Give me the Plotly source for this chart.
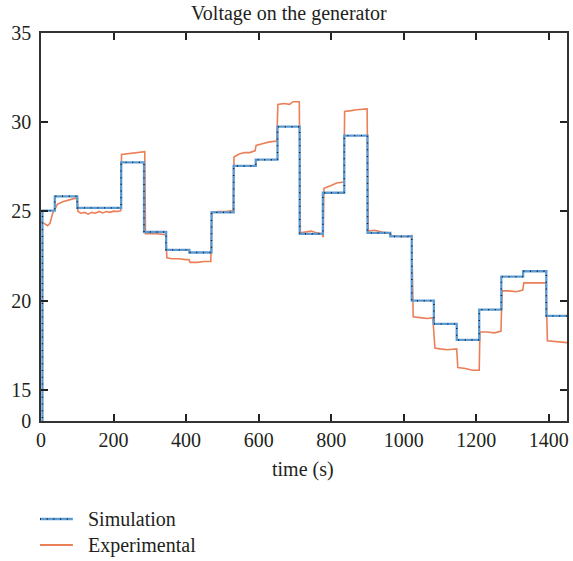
import plotly.graph_objects as go

# ---------------- data ----------------
# Simulation: step change times (s) and levels (V)
sim_t = [0, 4, 38, 100, 221, 284, 345, 409, 470, 531, 592, 652, 713, 777, 836,
         900, 963, 1022, 1083, 1146, 1208, 1269, 1329, 1393, 1450]
sim_v = [0, 25.05, 25.85, 25.2, 27.75, 23.85, 22.85, 22.7, 24.95, 27.55, 27.9,
         29.75, 23.75, 26.05, 29.25, 23.8, 23.6, 20.0, 18.7, 17.8, 19.5, 21.35,
         21.65, 19.15, 19.15]

# Experimental measurement (s, V)
exp_t = [0, 8, 18, 25, 32, 38, 45, 60, 75, 90, 100, 102, 110, 120, 130, 140, 150,
         160, 170, 180, 190, 200, 212, 220, 222, 240, 260, 286, 288, 300, 320, 344,
         347, 360, 380, 400, 408, 411, 430, 450, 468, 471, 490, 510, 530, 532, 545,
         560, 575, 590, 593, 610, 630, 650, 653, 670, 685, 695, 712, 715, 730, 745,
         760, 775, 778, 780, 800, 815, 835, 837, 855, 870, 899, 902, 920, 940, 962,
         965, 990, 1010, 1022, 1026, 1045, 1065, 1080, 1086, 1100, 1120, 1146, 1149,
         1170, 1190, 1208, 1210, 1230, 1250, 1268, 1271, 1290, 1310, 1328, 1331,
         1350, 1370, 1392, 1396, 1420, 1450]
exp_v = [24.45, 24.35, 24.2, 24.35, 24.9, 25.1, 25.4, 25.55, 25.65, 25.72, 25.75,
         25.0, 24.9, 24.95, 24.85, 24.95, 24.9, 25.0, 24.92, 25.0, 24.95, 25.02,
         25.0, 25.05, 28.2, 28.25, 28.3, 28.35, 23.75, 23.75, 23.75, 23.7, 22.4,
         22.35, 22.35, 22.3, 22.3, 22.15, 22.15, 22.2, 22.2, 24.95, 25.0, 25.0,
         25.05, 28.05, 28.2, 28.3, 28.3, 28.4, 28.7, 28.8, 28.9, 28.95, 31.0, 31.05,
         31.0, 31.15, 31.15, 23.8, 23.85, 23.9, 23.8, 23.75, 23.55, 26.3, 26.45,
         26.6, 26.65, 30.6, 30.65, 30.7, 30.75, 23.9, 23.95, 23.85, 23.8, 23.65,
         23.6, 23.6, 23.65, 19.1, 19.05, 19.0, 19.05, 17.35, 17.3, 17.25, 17.3,
         16.25, 16.2, 16.1, 16.1, 18.25, 18.25, 18.2, 18.3, 20.55, 20.55, 20.5,
         20.6, 21.0, 21.0, 21.0, 21.0, 17.75, 17.7, 17.65]

x_ticks = [0, 200, 400, 600, 800, 1000, 1200, 1400]
y_bottom = 13.26
y_ticks = [y_bottom, 15, 20, 25, 30, 35]
y_ticktext = ["0", "15", "20", "25", "30", "35"]

BLUE = "#5b9bd5"
ORANGE = "#ea7f58"
FONT = "Liberation Serif"
FS = 20
TXT = "#231f20"
DOTS = dict(color="#1a1a1a", width=1.4, dash="1px,5.7px")

fig = go.Figure()
fig.add_trace(go.Scatter(x=exp_t, y=exp_v, mode="lines", name="Experimental",
                         line=dict(color=ORANGE, width=1.6), showlegend=False))
fig.add_trace(go.Scatter(x=sim_t, y=sim_v, mode="lines", name="Simulation",
                         line=dict(color=BLUE, width=2.3, shape="hv"), showlegend=False))
fig.add_trace(go.Scatter(x=sim_t, y=sim_v, mode="lines", name="Simulation",
                         line=dict(shape="hv", **DOTS), showlegend=False))

L, R, T, B = 41, 4, 33, 140
W, H = 573, 561
pw, ph = W - L - R, H - T - B

def px(xp):
    return (xp - L) / pw

def py(yp):
    return (H - B - yp) / ph

shapes = [
    dict(type="line", xref="paper", yref="paper", x0=px(40), x1=px(73), y0=py(519), y1=py(519),
         line=dict(color=BLUE, width=2.3)),
    dict(type="line", xref="paper", yref="paper", x0=px(40), x1=px(73), y0=py(519), y1=py(519),
         line=DOTS),
    dict(type="line", xref="paper", yref="paper", x0=px(40), x1=px(73), y0=py(545), y1=py(545),
         line=dict(color=ORANGE, width=2)),
]
annotations = [
    dict(xref="paper", yref="paper", x=px(86), y=py(519), text="Simulation", showarrow=False,
         xanchor="left", yanchor="middle", font=dict(family=FONT, size=FS, color=TXT)),
    dict(xref="paper", yref="paper", x=px(86), y=py(545), text="Experimental", showarrow=False,
         xanchor="left", yanchor="middle", font=dict(family=FONT, size=FS, color=TXT)),
    dict(xref="paper", yref="paper", x=px(304), y=py(469), text="time (s)", showarrow=False,
         xanchor="center", yanchor="middle", font=dict(family=FONT, size=FS, color=TXT)),
    dict(xref="paper", yref="paper", x=px(290), y=py(14), text="Voltage on the generator",
         showarrow=False, xanchor="center", yanchor="middle",
         font=dict(family=FONT, size=FS, color=TXT)),
]

fig.update_layout(
    width=W, height=H,
    margin=dict(l=L, r=R, t=T, b=B),
    paper_bgcolor="white", plot_bgcolor="white",
    font=dict(family=FONT, size=FS, color=TXT),
    shapes=shapes, annotations=annotations,
    showlegend=False,
)
fig.update_xaxes(range=[0, 1450], tickvals=x_ticks, ticks="inside", ticklen=7, tickwidth=2,
                 tickcolor="#222", showline=True, linecolor="#333", linewidth=1.5,
                 mirror="ticks", showgrid=False, zeroline=False,
                 tickfont=dict(family=FONT, size=FS, color=TXT))
fig.update_yaxes(range=[y_bottom, 35], tickvals=y_ticks, ticktext=y_ticktext, ticks="inside",
                 ticklen=7, tickwidth=2, tickcolor="#222", showline=True, linecolor="#333",
                 linewidth=1.5, mirror="ticks", showgrid=False, zeroline=False,
                 ticklabelstandoff=4,
                 tickfont=dict(family=FONT, size=FS, color=TXT))

fig.write_html("out.html")
